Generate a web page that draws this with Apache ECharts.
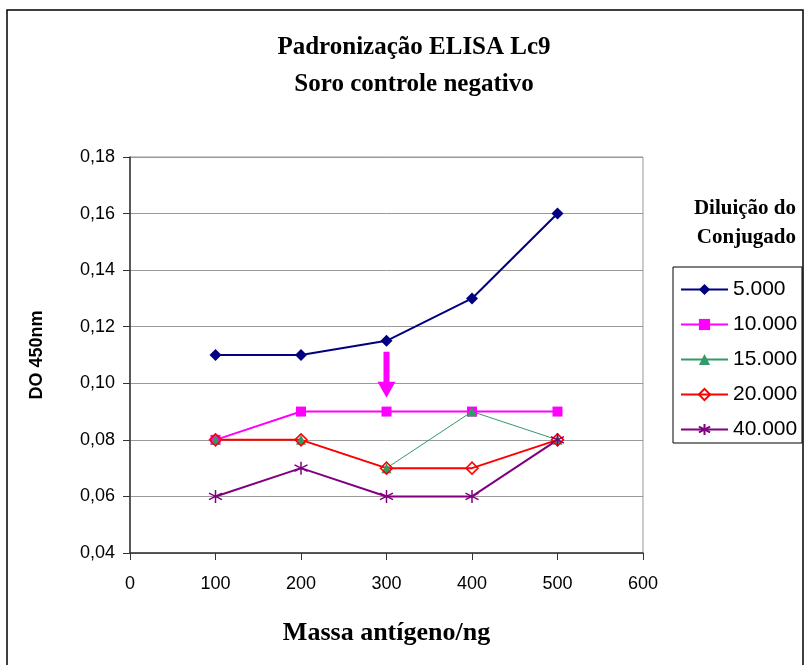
<!DOCTYPE html>
<html>
<head>
<meta charset="utf-8">
<script src="https://cdn.jsdelivr.net/npm/echarts@6/dist/echarts.min.js"></script>
<style>
  html, body { margin: 0; padding: 0; background: #fff; }
  #chart { width: 806px; height: 665px; }
</style>
</head>
<body>
<div id="chart"></div>
<script>
// Antigen mass (ng) on the x axis
const massNg = [100, 200, 300, 400, 500];

// Optical density at 450 nm for each conjugate dilution
const dil5000  = [0.110, 0.110, 0.115, 0.130, 0.160];
const dil10000 = [0.080, 0.090, 0.090, 0.090, 0.090];
const dil15000 = [0.080, 0.080, 0.070, 0.090, 0.080];
const dil20000 = [0.080, 0.080, 0.070, 0.070, 0.080];
const dil40000 = [0.060, 0.070, 0.060, 0.060, 0.080];

const seriesNames = ['5.000', '10.000', '15.000', '20.000', '40.000'];

// Arrow marker pointing at the chosen condition (x, DO)
const arrowAt = [300, 0.103];

const pairs = (ys) => massNg.map((x, i) => [x, ys[i]]);

const SERIF = '"Liberation Serif", "Times New Roman", serif';
const SANS = '"Liberation Sans", Arial, sans-serif';

const asterisk = 'path://M5,0L5,10M0.67,2.5L9.33,7.5M0.67,7.5L9.33,2.5';
const arrowPath = 'path://M6,0L12,0L12,30L18,30L9,46L0,30L6,30Z';

const chart = echarts.init(document.getElementById('chart'));

chart.setOption({
  animation: false,
  backgroundColor: '#fff',
  grid: { left: 130, right: 163, top: 157, bottom: 112, show: true, borderColor: '#999', borderWidth: 1 },
  xAxis: {
    type: 'value', min: 0, max: 600, interval: 100,
    name: 'Massa antígeno/ng', nameLocation: 'middle', nameGap: 67,
    nameTextStyle: { fontFamily: SERIF, fontWeight: 'bold', fontSize: 26, color: '#000' },
    axisLine: { show: true, lineStyle: { color: '#333', width: 1.5 } },
    axisTick: { show: true, length: 7, lineStyle: { color: '#333' } },
    axisLabel: { fontFamily: SANS, fontSize: 18, color: '#000', margin: 22 },
    splitLine: { show: false }
  },
  yAxis: {
    type: 'value', min: 0.04, max: 0.18, interval: 0.02,
    name: 'DO 450nm', nameLocation: 'middle', nameGap: 84, nameRotate: 90,
    nameTextStyle: { fontFamily: SANS, fontWeight: 'bold', fontSize: 18, color: '#000' },
    axisLine: { show: true, lineStyle: { color: '#333', width: 1.5 } },
    axisTick: { show: true, length: 7, lineStyle: { color: '#333' } },
    axisLabel: {
      fontFamily: SANS, fontSize: 18, color: '#000', margin: 15,
      formatter: (v) => v.toFixed(2).replace('.', ',')
    },
    splitLine: { show: true, lineStyle: { color: '#999', width: 1 } }
  },
  legend: {
    orient: 'vertical', left: 675, top: 274,
    itemWidth: 47, itemHeight: 14, itemGap: 14,
    data: seriesNames,
    textStyle: { fontFamily: SANS, fontSize: 21, color: '#000', lineHeight: 21 }
  },
  graphic: [
    { type: 'rect', silent: true, z: -1, shape: { x: 7, y: 10, width: 796, height: 660 },
      style: { fill: 'none', stroke: '#000', lineWidth: 1.5 } },
    { type: 'rect', silent: true, shape: { x: 673, y: 267, width: 129, height: 176 },
      style: { fill: 'none', stroke: '#000', lineWidth: 1 } },
    { type: 'text', silent: true, style: { x: 414, y: 48, text: 'Padronização ELISA Lc9',
      textAlign: 'center', textVerticalAlign: 'middle', fill: '#000',
      font: 'bold 25px ' + SERIF } },
    { type: 'text', silent: true, style: { x: 414, y: 85, text: 'Soro controle negativo',
      textAlign: 'center', textVerticalAlign: 'middle', fill: '#000',
      font: 'bold 25px ' + SERIF } },
    { type: 'text', silent: true, style: { x: 796, y: 209, text: 'Diluição do',
      textAlign: 'right', textVerticalAlign: 'middle', fill: '#000',
      font: 'bold 21px ' + SERIF } },
    { type: 'text', silent: true, style: { x: 796, y: 238, text: 'Conjugado',
      textAlign: 'right', textVerticalAlign: 'middle', fill: '#000',
      font: 'bold 21px ' + SERIF } }
  ],
  series: [
    {
      name: '5.000', type: 'line', data: pairs(dil5000),
      symbol: 'diamond', symbolSize: 12,
      lineStyle: { color: '#000080', width: 2 },
      itemStyle: { color: '#000080' }
    },
    {
      name: '10.000', type: 'line', data: pairs(dil10000),
      symbol: 'rect', symbolSize: 10,
      lineStyle: { color: '#FF00FF', width: 2 },
      itemStyle: { color: '#FF00FF' },
      markPoint: {
        silent: true,
        symbol: arrowPath, symbolSize: [18, 46], symbolKeepAspect: false,
        itemStyle: { color: '#FF00FF' },
        label: { show: false },
        data: [{ coord: arrowAt }]
      }
    },
    {
      name: '15.000', type: 'line', data: pairs(dil15000),
      symbol: 'triangle', symbolSize: 10,
      lineStyle: { color: '#339966', width: 1 },
      itemStyle: { color: '#339966' }
    },
    {
      name: '20.000', type: 'line', data: pairs(dil20000),
      symbol: 'diamond', symbolSize: 12,
      lineStyle: { color: '#FF0000', width: 2 },
      itemStyle: { color: 'rgba(255,255,255,0)', borderColor: '#FF0000', borderWidth: 1.5 }
    },
    {
      name: '40.000', type: 'line', data: pairs(dil40000),
      symbol: asterisk, symbolSize: 13,
      lineStyle: { color: '#800080', width: 2 },
      itemStyle: { color: 'rgba(255,255,255,0)', borderColor: '#800080', borderWidth: 1.5 }
    }
  ]
});
</script>
</body>
</html>
